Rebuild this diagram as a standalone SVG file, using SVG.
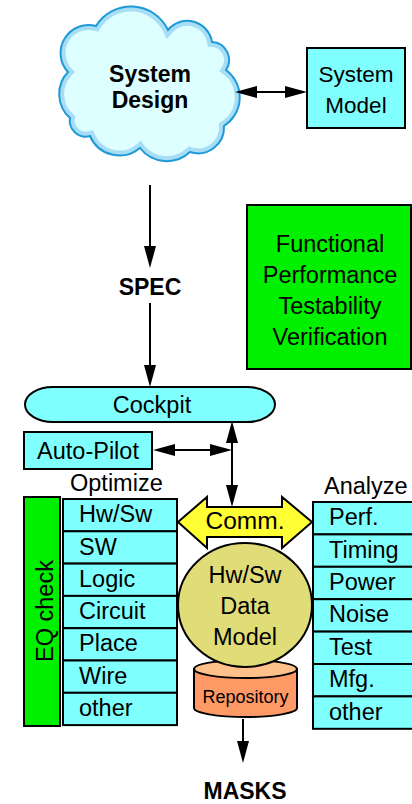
<svg xmlns="http://www.w3.org/2000/svg" width="412" height="804" viewBox="0 0 412 804">
<style>
text{font-family:"Liberation Sans",Arial,sans-serif;font-size:23.5px;fill:#000}
.b{font-weight:bold;font-size:23px}
.c{text-anchor:middle}
.cy{fill:#80FFFF;stroke:#000;stroke-width:2}
.gr{fill:#00F000;stroke:#000;stroke-width:2}
.ln{stroke:#000;stroke-width:2;fill:none}
</style>
<defs>
<marker id="ah" viewBox="0 0 22 12" refX="18" refY="6" markerWidth="22" markerHeight="12" markerUnits="userSpaceOnUse" orient="auto-start-reverse">
<path d="M0,0 L22,6 L0,12 Z" fill="#000"/>
</marker>
<clipPath id="cc"><path id="cp" d="M70,118 A32,32 0 0,1 68,72 A28,28 0 0,1 96,26 A41,41 0 0,1 168,30 A25,25 0 0,1 212,42 A18,18 0 0,1 226,70 A34,34 0 0,1 224,126 A26,26 0 0,1 190,152 A34,34 0 0,1 140,148 A32,32 0 0,1 90,136 A16,16 0 0,1 70,118 Z"/></clipPath>
</defs>

<g id="system-design">
<use href="#cp" fill="#DDFFFF"/>
<use href="#cp" fill="none" stroke="#A8DDF6" stroke-width="10" clip-path="url(#cc)"/>
<use href="#cp" fill="none" stroke="#1E9AD6" stroke-width="2"/>
<text class="b c" x="150" y="82">System</text>
<text class="b c" x="150" y="108">Design</text>
</g>

<g id="system-model">
<rect class="cy" x="307" y="48" width="98" height="80"/>
<text class="c" x="356" y="82" style="font-size:22.5px">System</text>
<text class="c" x="356" y="113" style="font-size:22.5px">Model</text>
</g>

<g id="spec"><text class="b c" x="150" y="295">SPEC</text></g>

<g id="criteria">
<rect class="gr" x="247" y="205" width="164" height="164"/>
<text class="c" x="330" y="252">Functional</text>
<text class="c" x="330" y="283">Performance</text>
<text class="c" x="330" y="314">Testability</text>
<text class="c" x="330" y="345">Verification</text>
</g>

<g id="cockpit">
<rect class="cy" x="25" y="387" width="250" height="35" rx="28" ry="17.5"/>
<text class="c" x="152" y="413">Cockpit</text>
</g>

<g id="auto-pilot">
<rect class="cy" x="24" y="432" width="128" height="37"/>
<text class="c" x="88" y="459">Auto-Pilot</text>
</g>

<g id="optimize-label"><text x="70" y="491">Optimize</text></g>
<g id="analyze-label"><text x="324" y="494">Analyze</text></g>

<g id="eq-check">
<rect class="gr" x="24" y="497" width="36" height="229"/>
<text class="c" transform="translate(53,611) rotate(-90)">EQ check</text>
</g>

<g id="optimize-list">
<rect class="cy" x="63" y="499" width="114" height="32.3"/><text x="79" y="522">Hw/Sw</text>
<rect class="cy" x="63" y="531.3" width="114" height="32.3"/><text x="79" y="555">SW</text>
<rect class="cy" x="63" y="563.6" width="114" height="32.3"/><text x="79" y="587">Logic</text>
<rect class="cy" x="63" y="595.9" width="114" height="32.3"/><text x="79" y="619">Circuit</text>
<rect class="cy" x="63" y="628.2" width="114" height="32.3"/><text x="79" y="651">Place</text>
<rect class="cy" x="63" y="660.5" width="114" height="32.3"/><text x="79" y="684">Wire</text>
<rect class="cy" x="63" y="692.8" width="114" height="32.3"/><text x="79" y="716">other</text>
</g>

<g id="analyze-list">
<rect class="cy" x="313" y="502" width="104" height="32.4"/><text x="329" y="525">Perf.</text>
<rect class="cy" x="313" y="534.4" width="104" height="32.4"/><text x="329" y="558">Timing</text>
<rect class="cy" x="313" y="566.8" width="104" height="32.4"/><text x="329" y="590">Power</text>
<rect class="cy" x="313" y="599.2" width="104" height="32.4"/><text x="329" y="622">Noise</text>
<rect class="cy" x="313" y="631.6" width="104" height="32.4"/><text x="329" y="655">Test</text>
<rect class="cy" x="313" y="664" width="104" height="32.4"/><text x="329" y="687">Mfg.</text>
<rect class="cy" x="313" y="696.4" width="104" height="32.4"/><text x="329" y="720">other</text>
</g>

<g id="comm">
<path d="M178,522 L207,497 L207,507 L282,507 L282,497 L312,522 L282,548 L282,537 L207,537 L207,548 Z" fill="#FFFF33" stroke="#000" stroke-width="2" stroke-linejoin="miter"/>
<text class="c" x="245" y="529" style="font-size:24.5px">Comm.</text>
</g>

<g id="repository">
<path d="M194,669 L194,708 A51.5,9 0 0,0 297,708 L297,669 Z" fill="#FF9966" stroke="#000" stroke-width="2"/>
<ellipse cx="245.5" cy="669" rx="51.5" ry="9" fill="#FFC08A" stroke="#000" stroke-width="2"/>
<text class="c" x="245.5" y="703" style="font-size:18px">Repository</text>
</g>

<g id="data-model">
<ellipse cx="245" cy="605" rx="67" ry="62" fill="#E0DC78" stroke="#000" stroke-width="2"/>
<text class="c" x="245" y="583">Hw/Sw</text>
<text class="c" x="245" y="614">Data</text>
<text class="c" x="245" y="645">Model</text>
</g>

<g id="masks"><text class="b c" x="245" y="799">MASKS</text></g>

<g id="connectors">
<line class="ln" x1="239" y1="92" x2="303" y2="92" marker-start="url(#ah)" marker-end="url(#ah)"/>
<line class="ln" x1="150" y1="185" x2="150" y2="264" marker-end="url(#ah)"/>
<line class="ln" x1="150" y1="303" x2="150" y2="383" marker-end="url(#ah)"/>
<line class="ln" x1="157" y1="450" x2="228" y2="450" marker-start="url(#ah)" marker-end="url(#ah)"/>
<line class="ln" x1="232" y1="425" x2="232" y2="503" marker-start="url(#ah)" marker-end="url(#ah)"/>
<line class="ln" x1="243" y1="719" x2="243" y2="759" marker-end="url(#ah)"/>
</g>
</svg>
